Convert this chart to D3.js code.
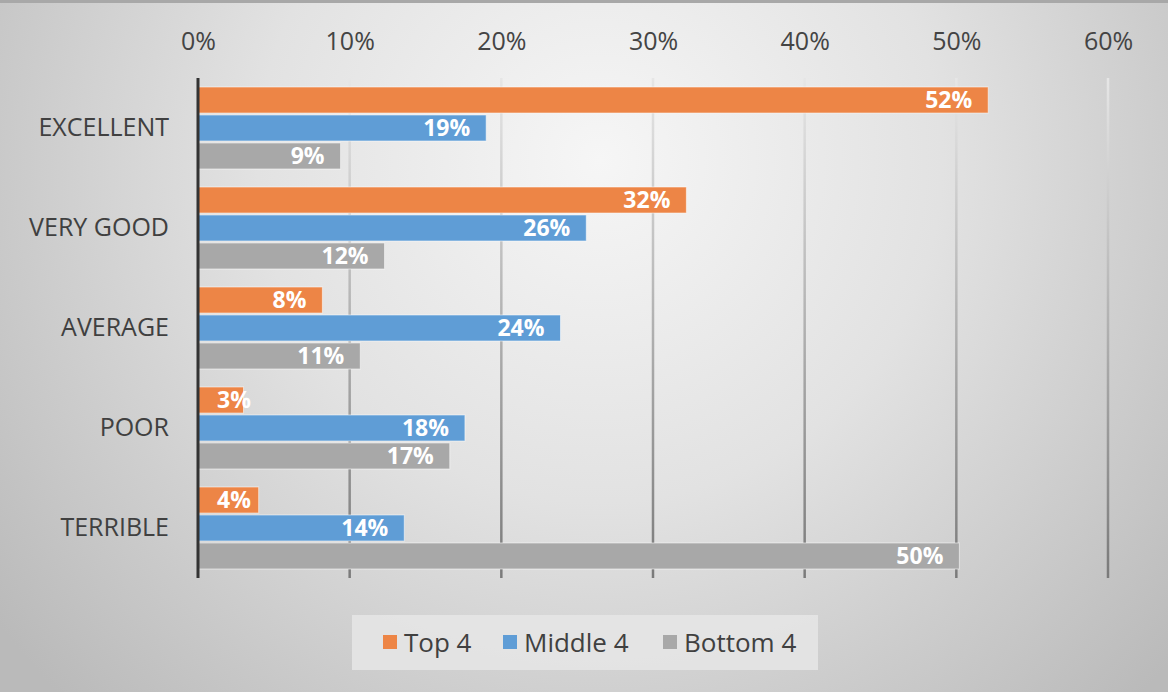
<!DOCTYPE html>
<html>
<head>
<meta charset="utf-8">
<script src="https://cdn.jsdelivr.net/npm/d3@7"></script>
<style>
  body { margin: 0; padding: 0; background: #fff; }
  svg text { font-family: "Open Sans", "Noto Sans", sans-serif; }
</style>
</head>
<body>
<div id="chart"></div>
<script>
// chart size
const width = 1168,
  height = 692,
  margins = { top: 78, bottom: 114, left: 198, right: 60 };

// data
const categories = ["EXCELLENT", "VERY GOOD", "AVERAGE", "POOR", "TERRIBLE"];
const seriesNames = ["Top 4", "Middle 4", "Bottom 4"];
const top4 = [52.1, 32.2, 8.2, 3.0, 4.0];
const middle4 = [19.0, 25.6, 23.9, 17.6, 13.6];
const bottom4 = [9.4, 12.3, 10.7, 16.6, 50.2];
const xTicks = [0, 10, 20, 30, 40, 50, 60];
const colors = ["#ED8546", "#5F9DD6", "#A8A8A8"];

const seriesValues = [top4, middle4, bottom4];

const svg = d3.select("#chart")
  .append("svg")
  .attr("width", width)
  .attr("height", height);

const defs = svg.append("defs");

// background radial gradient, light in the top middle and grey in corners
const bg = defs.append("radialGradient")
  .attr("id", "bgGrad")
  .attr("gradientUnits", "userSpaceOnUse")
  .attr("cx", 600).attr("cy", 160).attr("r", 760);
bg.append("stop").attr("offset", "0%").attr("stop-color", "#f6f6f6");
bg.append("stop").attr("offset", "45%").attr("stop-color", "#e2e2e2");
bg.append("stop").attr("offset", "100%").attr("stop-color", "#bababa");

// gridlines fade from light at the top to darker at the bottom
const gridGrad = defs.append("linearGradient")
  .attr("id", "gridGrad")
  .attr("gradientUnits", "userSpaceOnUse")
  .attr("x1", 0).attr("y1", margins.top)
  .attr("x2", 0).attr("y2", height - margins.bottom);
gridGrad.append("stop").attr("offset", "0%").attr("stop-color", "#e6e6e6");
gridGrad.append("stop").attr("offset", "100%").attr("stop-color", "#7a7a7a");

svg.append("rect")
  .attr("width", width)
  .attr("height", height)
  .attr("fill", "url(#bgGrad)");

// thin darker frame on top
svg.append("rect")
  .attr("x", 0).attr("y", 0)
  .attr("width", width).attr("height", 3)
  .attr("fill", "#a8a8a8");

const xScale = d3.scaleLinear()
  .domain([0, 60])
  .range([margins.left, width - margins.right]);

const yScale = d3.scaleBand()
  .domain(categories)
  .range([margins.top, height - margins.bottom])
  .paddingInner(0.18)
  .paddingOuter(0.09);

const ySub = d3.scaleBand()
  .domain(seriesNames)
  .range([0, yScale.bandwidth()])
  .paddingInner(0.07);

// gridlines
svg.append("g")
  .selectAll("line")
  .data(xTicks.filter(d => d > 0))
  .join("line")
  .attr("x1", d => xScale(d))
  .attr("x2", d => xScale(d))
  .attr("y1", margins.top)
  .attr("y2", height - margins.bottom)
  .attr("stroke", "url(#gridGrad)")
  .attr("stroke-width", 2.5);

// top axis labels
const xAxis = d3.axisTop(xScale)
  .tickValues(xTicks)
  .tickFormat(d => d + "%")
  .tickSize(0)
  .tickPadding(0);

svg.append("g")
  .attr("class", "x-axis")
  .attr("transform", "translate(0, 50)")
  .call(xAxis)
  .call(g => g.select(".domain").remove())
  .call(g => g.selectAll("text")
    .attr("fill", "#444")
    .style("font-size", "25px"));

// category labels
const yAxis = d3.axisLeft(yScale).tickSize(0).tickPadding(29);
svg.append("g")
  .attr("class", "y-axis")
  .attr("transform", `translate(${margins.left}, 0)`)
  .call(yAxis)
  .call(g => g.select(".domain").remove())
  .call(g => g.selectAll("text")
    .attr("fill", "#404040")
    .style("font-size", "25px"));

// flatten to bar records
const bars = [];
categories.forEach((cat, i) => {
  seriesNames.forEach((s, j) => {
    bars.push({ cat: cat, series: s, value: seriesValues[j][i], color: colors[j] });
  });
});

svg.append("g")
  .selectAll("rect")
  .data(bars)
  .join("rect")
  .attr("x", xScale(0))
  .attr("y", d => yScale(d.cat) + ySub(d.series))
  .attr("width", d => xScale(d.value) - xScale(0))
  .attr("height", ySub.bandwidth())
  .attr("fill", d => d.color)
  .attr("stroke", "rgba(255,255,255,0.55)")
  .attr("stroke-width", 1);

// value labels near the bar end, pushed right when the bar is too short
svg.append("g")
  .selectAll("text")
  .data(bars)
  .join("text")
  .attr("y", d => yScale(d.cat) + ySub(d.series) + ySub.bandwidth() / 2)
  .attr("dy", "0.36em")
  .attr("text-anchor", "end")
  .attr("fill", "#fff")
  .style("font-size", "23px")
  .style("font-weight", "bold")
  .text(d => Math.round(d.value) + "%")
  .each(function(d) {
    const w = this.getComputedTextLength();
    const x = Math.max(xScale(d.value) - 16, xScale(0) + 19 + w);
    d3.select(this).attr("x", x);
  });

// axis line at 0
svg.append("line")
  .attr("x1", xScale(0)).attr("x2", xScale(0))
  .attr("y1", margins.top).attr("y2", height - margins.bottom)
  .attr("stroke", "#333")
  .attr("stroke-width", 3);

// legend
const legend = svg.append("g").attr("transform", "translate(352, 615)");
legend.append("rect")
  .attr("width", 466).attr("height", 55)
  .attr("fill", "#e6e6e6")
  .attr("opacity", 0.85);

const legendX = [31, 151, 311];
const items = legend.selectAll("g")
  .data(seriesNames)
  .join("g")
  .attr("transform", (d, i) => `translate(${legendX[i]}, 0)`);

items.append("rect")
  .attr("x", 0).attr("y", 20)
  .attr("width", 14).attr("height", 14)
  .attr("fill", (d, i) => colors[i]);

items.append("text")
  .attr("x", 21).attr("y", 28)
  .attr("dy", "0.36em")
  .attr("fill", "#404040")
  .style("font-size", "26px")
  .text(d => d);
</script>
</body>
</html>
